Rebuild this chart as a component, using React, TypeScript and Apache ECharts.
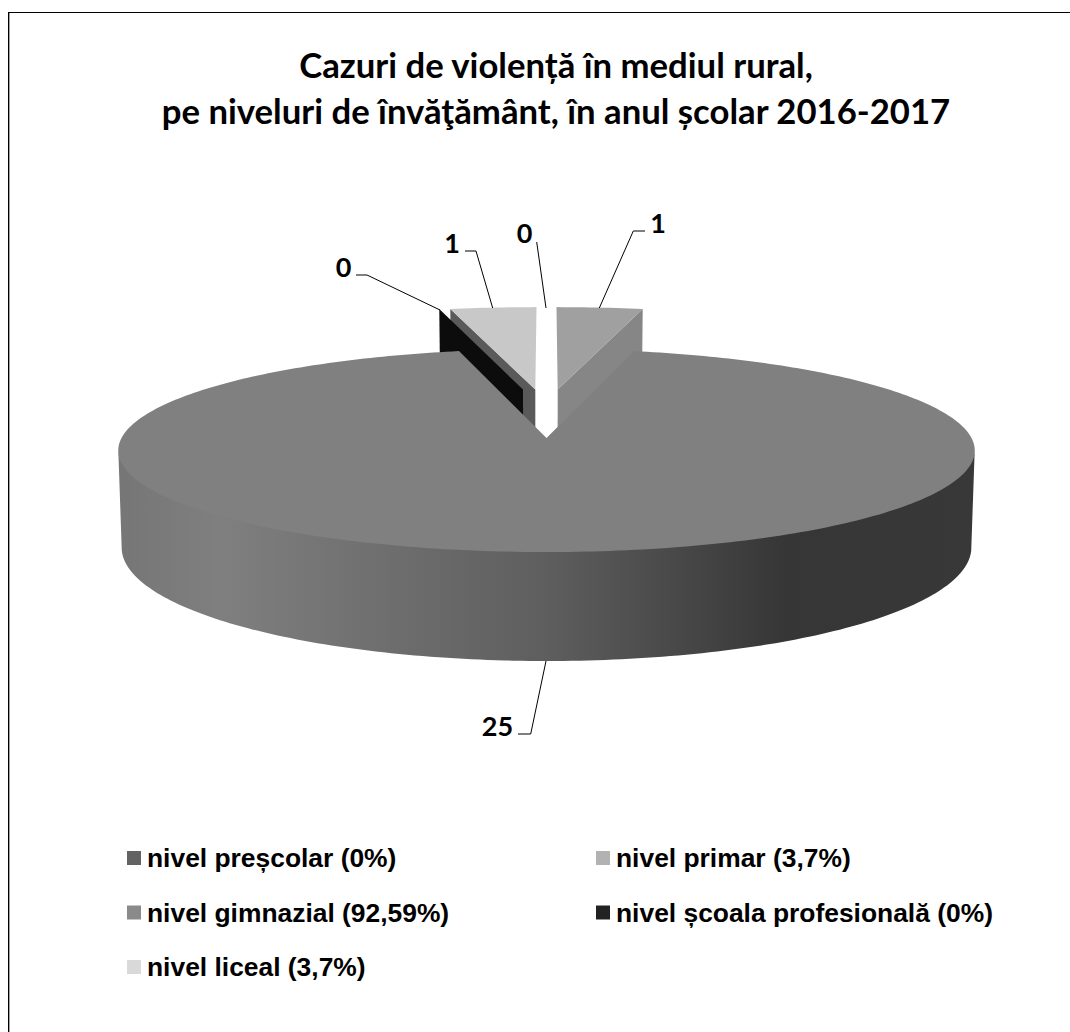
import React, { useEffect, useRef } from "react";
import * as echarts from "echarts";

const categories = [
  "nivel preșcolar (0%)",
  "nivel primar (3,7%)",
  "nivel gimnazial (92,59%)",
  "nivel școala profesională (0%)",
  "nivel liceal (3,7%)",
];
const values = [0, 1, 25, 0, 1];
const legendColors = ["#636363", "#b2b2b2", "#8a8a8a", "#222222", "#d9d9d9"];
const titleLines = [
  "Cazuri de violență în mediul rural,",
  "pe niveluri de învăţământ, în anul școlar 2016-2017",
];
const legendLeft = [categories[0], categories[2], categories[4]];
const legendRight = [categories[1], categories[3]];

// Projection of the tilted disc (perspective view)
const CX = 546.5, CY = 438, RX = 425, RY = 100, K = 0.123, DEPTH = 95.6;
const total = values.reduce((a, b) => a + b, 0);
const project = (u: number, v: number, down = 0) => {
  const s = 1 / (1 + K * v);
  const shrink = down > 0 ? 0.992 : 1;
  return [CX + RX * u * s * shrink, CY - RY * v * s + down * s];
};
const rad = (d: number) => (d * Math.PI) / 180;
const rim = (deg: number, ou: number, ov: number, r = 1, down = 0) =>
  project(Math.sin(rad(deg)) * r + ou, Math.cos(rad(deg)) * r + ov, down);

type Look = {
  ou: number; ov: number; r: number; top?: string; wall?: string; wallEdge?: "start" | "end";
  label: [number, number]; leader: number[][]; z: number;
};
const looks: Look[] = [
  { ou: 0, ov: 0, r: 1, label: [524.5, 232], leader: [[536.7, 242], [546, 308]], z: 3 },
  { ou: 0.028, ov: 0.515, r: 1.045, top: "#a0a0a0", wall: "#868686", wallEdge: "end",
    label: [658, 222], leader: [[645, 231], [633.3, 231], [599.3, 308]], z: 2 },
  { ou: 0, ov: 0, r: 1, top: "#808080", label: [497.5, 725],
    leader: [[518, 734], [530.7, 734], [546, 661]], z: 6 },
  { ou: -0.0588, ov: 0.515, r: 1.045, wall: "#0c0c0c", wallEdge: "start",
    label: [343.5, 266], leader: [[356, 275], [367, 275], [440, 310]], z: 4 },
  { ou: -0.028, ov: 0.515, r: 1.045, top: "#c8c8c8", wall: "#5a5a5a", wallEdge: "start",
    label: [452, 242], leader: [[465, 251], [476, 251], [492.7, 308]], z: 3 },
];

const makeSeries = (i: number) => {
  const look = looks[i];
  const before = values.slice(0, i).reduce((a, b) => a + b, 0);
  return {
    type: "custom",
    name: categories[i],
    coordinateSystem: "none",
    silent: true,
    z: look.z,
    itemStyle: { color: legendColors[i] },
    data: [[values[i]]],
    renderItem: (_p: any, api: any) => {
      const value = api.value(0) as number;
      const a0 = (before / total) * 360;
      const a1 = ((before + value) / total) * 360;
      const apex = project(look.ou, look.ov);
      const children: any[] = [];
      if (look.wall) {
        const deg = look.wallEdge === "end" ? a1 : a0;
        children.push({
          type: "polygon",
          shape: {
            points: [
              rim(deg, look.ou, look.ov, look.r),
              apex,
              project(look.ou, look.ov, DEPTH),
              rim(deg, look.ou, look.ov, look.r, DEPTH),
            ],
          },
          style: { fill: look.wall },
        });
      }
      if (look.top && value > 0) {
        const arc: number[][] = [];
        const steps = Math.max(2, Math.round(a1 - a0));
        for (let s = 0; s <= steps; s++) {
          arc.push(rim(a0 + ((a1 - a0) * s) / steps, look.ou, look.ov, look.r));
        }
        if (value > total / 2) {
          const band: number[][] = [];
          const from = 97, to = 263;
          for (let d = from; d <= to; d += 1) band.push(rim(d, 0, 0, 1, -1.5));
          for (let d = to; d >= from; d -= 1) band.push(rim(d, 0, 0, 1, DEPTH));
          children.push({
            type: "polygon",
            shape: { points: band },
            style: {
              fill: new echarts.graphic.LinearGradient(0, 0, 1, 0, [
                { offset: 0, color: "#767676" },
                { offset: 0.12, color: "#7f7f7f" },
                { offset: 0.5, color: "#5e5e5e" },
                { offset: 0.78, color: "#363636" },
                { offset: 1, color: "#383838" },
              ]),
            },
          });
        }
        children.push({
          type: "polygon",
          shape: { points: [apex, ...arc] },
          style: { fill: look.top },
        });
      }
      children.push({
        type: "polyline",
        shape: { points: look.leader },
        style: { stroke: "#000000", lineWidth: 1, fill: "none" },
      });
      children.push({
        type: "text",
        style: {
          text: String(value),
          x: look.label[0],
          y: look.label[1],
          font: "bold 27px Lato",
          fill: "#000000",
          textAlign: "center",
          textVerticalAlign: "middle",
        },
      });
      return { type: "group", children };
    },
  };
};

const legendBase = {
  orient: "vertical",
  icon: "rect",
  itemWidth: 14,
  itemHeight: 14,
  itemGap: 28.5,
  padding: 0,
  selectedMode: false,
  textStyle: { fontFamily: "Liberation Sans", fontWeight: "bold", fontSize: 26.4, lineHeight: 26, color: "#000000", padding: [0, 0, 0, 1] },
};

export default function App() {
  const ref = useRef<HTMLDivElement>(null);
  useEffect(() => {
    document.body.style.margin = "0";
    const chart = echarts.init(ref.current!, undefined, { renderer: "svg" });
    chart.setOption({
      animation: false,
      backgroundColor: "#ffffff",
      title: {
        text: titleLines.join("\n"),
        left: 551,
        top: 36,
        textAlign: "center",
        textStyle: { fontFamily: "Lato", fontWeight: "bold", fontSize: 34.7, lineHeight: 46, color: "#000000" },
      },
      legend: [
        { ...legendBase, left: 127, top: 845, data: legendLeft },
        { ...legendBase, left: 596, top: 845, data: legendRight },
      ],
      graphic: [
        { type: "line", shape: { x1: 8.5, y1: 12.5, x2: 1070, y2: 12.5 }, style: { stroke: "#000000", lineWidth: 1 }, silent: true },
        { type: "line", shape: { x1: 8.5, y1: 12, x2: 8.5, y2: 1032 }, style: { stroke: "#000000", lineWidth: 1 }, silent: true },
        { type: "line", shape: { x1: 9.5, y1: 13, x2: 9.5, y2: 1032 }, style: { stroke: "#a0a0a0", lineWidth: 1 }, silent: true },
      ],
      series: values.map((_, i) => makeSeries(i)),
    });
    return () => chart.dispose();
  }, []);
  return <div ref={ref} style={{ width: 1070, height: 1032 }} />;
}
